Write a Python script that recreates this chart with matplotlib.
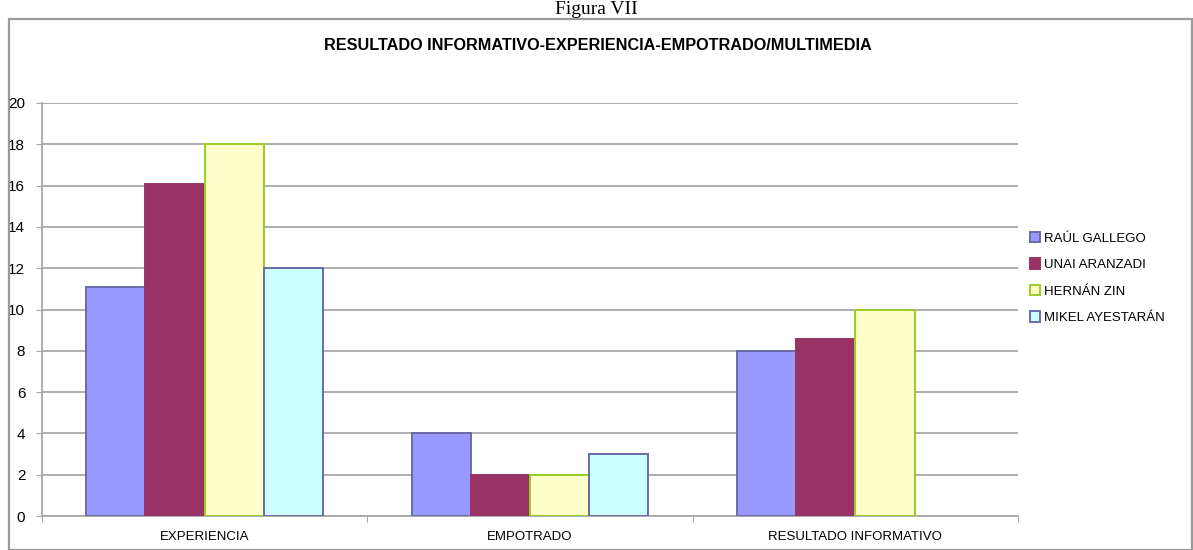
import numpy as np
import matplotlib
matplotlib.use("Agg")
import matplotlib.pyplot as plt
from matplotlib.patches import Rectangle, Patch

categorias = ["EXPERIENCIA", "EMPOTRADO", "RESULTADO INFORMATIVO"]
series = ["RAÚL GALLEGO", "UNAI ARANZADI", "HERNÁN ZIN", "MIKEL AYESTARÁN"]
raul = [11.1, 4, 8]
unai = [16.1, 2, 8.55]
hernan = [18, 2, 10]
mikel = [12, 3, np.nan]  # sin barra en RESULTADO INFORMATIVO
yticks = [0, 2, 4, 6, 8, 10, 12, 14, 16, 18, 20]

valores = [raul, unai, hernan, mikel]
relleno = ["#9999FF", "#993366", "#FFFFCC", "#CCFFFF"]
borde = ["#6A6AA8", "#993366", "#9ACD22", "#6A6AA8"]

plt.rcParams["font.family"] = ["Liberation Sans", "DejaVu Sans"]

fig = plt.figure(figsize=(11.93, 5.5), dpi=100)
W, H = 1193, 550

# marco exterior
fig.patches.append(Rectangle((9 / W, 0), 1183 / W, 1 - 19 / H, transform=fig.transFigure,
                             fill=False, edgecolor="#9A9A9A", lw=1.6))
fig.text(0.5, 1 - 9 / H, "Figura VII", ha="center", va="center",
         fontsize=14, family="Liberation Serif")

ax = fig.add_axes([42 / W, 1 - 516 / H, (1018 - 42) / W, (516 - 103) / H])

x = np.arange(len(categorias))
ancho = 0.182
for i, (vals, fc, ec) in enumerate(zip(valores, relleno, borde)):
    pos = x + (i - 1.5) * ancho
    ax.bar(pos, vals, width=ancho, color=fc, edgecolor=ec, linewidth=1.4, zorder=3)

ax.set_xlim(-0.5, 2.5)
ax.set_ylim(0, 20)
ax.set_yticks(yticks)
ax.yaxis.grid(True, color="#A8A8A8", lw=1.3, zorder=0)
ax.tick_params(axis="y", length=4, color="#A8A8A8", labelsize=11, pad=8)
ax.set_xticks([-0.5, 0.5, 1.5, 2.5])
ax.set_xticklabels([])
ax.tick_params(axis="x", length=4, color="#A8A8A8", direction="out")
for xi, c in zip(x, categorias):
    ax.text(xi, -1.0, c, ha="center", va="center", fontsize=9.5)
for s in ["top", "right"]:
    ax.spines[s].set_visible(False)
for s in ["left", "bottom"]:
    ax.spines[s].set_color("#A8A8A8")
    ax.spines[s].set_linewidth(1.3)

fig.text(598 / W, 1 - 46 / H, "RESULTADO INFORMATIVO-EXPERIENCIA-EMPOTRADO/MULTIMEDIA",
         ha="center", va="center", fontsize=11.7, fontweight="bold")

handles = [Patch(facecolor=fc, edgecolor=ec, lw=1.4) for fc, ec in zip(relleno, borde)]
fig.legend(handles, series, loc="center left", bbox_to_anchor=(1018 / W, 1 - 278 / H),
           frameon=False, prop={"size": 9.5},
           handlelength=0.8, handleheight=0.8, handletextpad=0.3, labelspacing=1.05)

fig.savefig("out.png", dpi=100)
